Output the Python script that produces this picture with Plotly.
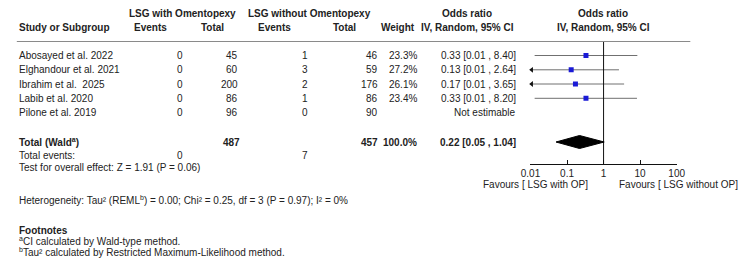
import plotly.graph_objects as go

# ---- data ----
studies = ["Abosayed et al. 2022", "Elghandour et al. 2021", "Ibrahim et al.  2025",
           "Labib et al. 2020", "Pilone et al. 2019"]
events_op = [0, 0, 0, 0, 0]
total_op = [45, 60, 200, 86, 96]
events_noop = [1, 3, 2, 1, 0]
total_noop = [46, 59, 176, 86, 90]
weights = ["23.3%", "27.2%", "26.1%", "23.4%", ""]
odds = [0.33, 0.13, 0.17, 0.33, None]
ci_low = [0.013, 0.0064, 0.008, 0.013, None]
ci_high = [8.40, 2.64, 3.65, 8.20, None]
pooled_or = 0.22
pooled_low = 0.05
pooled_high = 1.04
pooled_total_op = 487
pooled_total_noop = 457
pooled_events_op = 0
pooled_events_noop = 7
tick_vals = [0.01, 0.1, 1, 10, 100]
tick_text = ["0.01", "0.1", "1", "10", "100"]

W, H = 750, 272
FONT = "Liberation Sans, Arial, sans-serif"
TXT = "#222222"
row_y = [55.5, 69.8, 84.0, 98.3, 112.5]
total_y = 142.0
axis_y = 164.0
top_line_y = 41.5

fig = go.Figure()
ann = []

def t(x, y, s, anchor="left", bold=False, size=10):
    if bold:
        s = "<b>" + s + "</b>"
    ann.append(dict(x=x / W, y=y, xref="paper", yref="y", text=s, showarrow=False,
                    xanchor=anchor, yanchor="middle",
                    font=dict(family=FONT, size=size, color=TXT)))

# headers
t(176.5, 13.5, "LSG with Omentopexy", "center", True)
t(307.5, 13.5, "LSG without Omentopexy", "center", True)
t(469, 13.5, "Odds ratio", "center", True)
t(608.5, 13.5, "Odds ratio", "center", True)
t(7, 27, "Study or Subgroup", "left", True)
t(163, 27, "Events", "right", True)
t(222, 27, "Total", "right", True)
t(290, 27, "Events", "right", True)
t(357, 27, "Total", "right", True)
t(418, 27, "Weight", "right", True)
t(469, 27, "IV, Random, 95% CI", "center", True)
t(608.5, 27, "IV, Random, 95% CI", "center", True)

for i, s in enumerate(studies):
    y = row_y[i]
    t(7, y, s)
    t(180, y, str(events_op[i]), "right")
    t(236, y, str(total_op[i]), "right")
    t(308, y, str(events_noop[i]), "right")
    t(380, y, str(total_noop[i]), "right")
    if weights[i]:
        t(420, y, weights[i], "right")
    if odds[i] is None:
        t(521, y, "Not estimable", "right")
    else:
        t(521, y, f"{odds[i]:.2f} [{ci_low[i]:.2f} , {ci_high[i]:.2f}]", "right")

t(7, total_y, "Total (Wald<sup>a</sup>)", "left", True)
t(238, total_y, str(pooled_total_op), "right", True)
t(380, total_y, str(pooled_total_noop), "right", True)
t(420, total_y, "100.0%", "right", True)
t(521, total_y, f"{pooled_or:.2f} [{pooled_low:.2f} , {pooled_high:.2f}]", "right", True)
t(7, 155.5, "Total events:")
t(180, 155.5, str(pooled_events_op), "right")
t(308, 155.5, str(pooled_events_noop), "right")
t(7, 167.5, "Test for overall effect: Z = 1.91 (P = 0.06)")
t(595, 184, "Favours [ LSG with OP]", "right")
t(623, 184, "Favours [ LSG without OP]", "left")
t(7, 200, "Heterogeneity: Tau² (REML<sup>b</sup>) = 0.00; Chi² = 0.25, df = 3 (P = 0.97); I² = 0%")
t(7, 230, "Footnotes", "left", True)
t(7, 241, "<sup>a</sup>CI calculated by Wald-type method.")
t(7, 252, "<sup>b</sup>Tau² calculated by Restricted Maximum-Likelihood method.")

# CI lines
for i in range(len(studies)):
    if odds[i] is None:
        continue
    fig.add_trace(go.Scatter(x=[ci_low[i], ci_high[i]], y=[row_y[i], row_y[i]], mode="lines",
                             line=dict(color="#707070", width=1), hoverinfo="skip"))
    if ci_low[i] < tick_vals[0]:
        fig.add_trace(go.Scatter(x=[0.0108], y=[row_y[i]], mode="markers",
                                 marker=dict(symbol="triangle-left", size=5, color="#111"),
                                 cliponaxis=False, hoverinfo="skip"))

# points
xs = [o for o in odds if o is not None]
ys = [row_y[i] for i, o in enumerate(odds) if o is not None]
fig.add_trace(go.Scatter(x=xs, y=ys, mode="markers",
                         marker=dict(symbol="square", size=5, color="#1a1ad6"),
                         hoverinfo="skip"))

# line of no effect
fig.add_trace(go.Scatter(x=[1, 1], y=[top_line_y, axis_y], mode="lines",
                         line=dict(color="#111", width=1), hoverinfo="skip"))

# diamond
fig.add_trace(go.Scatter(x=[pooled_low, pooled_or, pooled_high, pooled_or, pooled_low],
                         y=[total_y, total_y - 6.5, total_y, total_y + 6.5, total_y],
                         mode="lines", fill="toself", fillcolor="#000",
                         line=dict(color="#000", width=1), hoverinfo="skip"))

shapes = [dict(type="line", xref="paper", yref="y", x0=7 / W, x1=698 / W,
               y0=top_line_y, y1=top_line_y, line=dict(color="#8a8a8a", width=1))]

fig.update_layout(
    width=W, height=H, margin=dict(l=0, r=0, t=0, b=0),
    paper_bgcolor="white", plot_bgcolor="white", showlegend=False,
    annotations=ann, shapes=shapes,
    xaxis=dict(type="log", range=[-2, 2], domain=[534 / W, 684 / W], anchor="free",
               position=(H - axis_y) / H, showline=True, linecolor="#111", linewidth=1,
               ticks="inside", ticklen=4, tickcolor="#111", tickvals=tick_vals,
               ticktext=tick_text, showgrid=False, zeroline=False,
               tickfont=dict(family=FONT, size=10, color=TXT)),
    yaxis=dict(range=[H, 0], domain=[0, 1], visible=False, showgrid=False),
)

fig.write_html("out.html")
